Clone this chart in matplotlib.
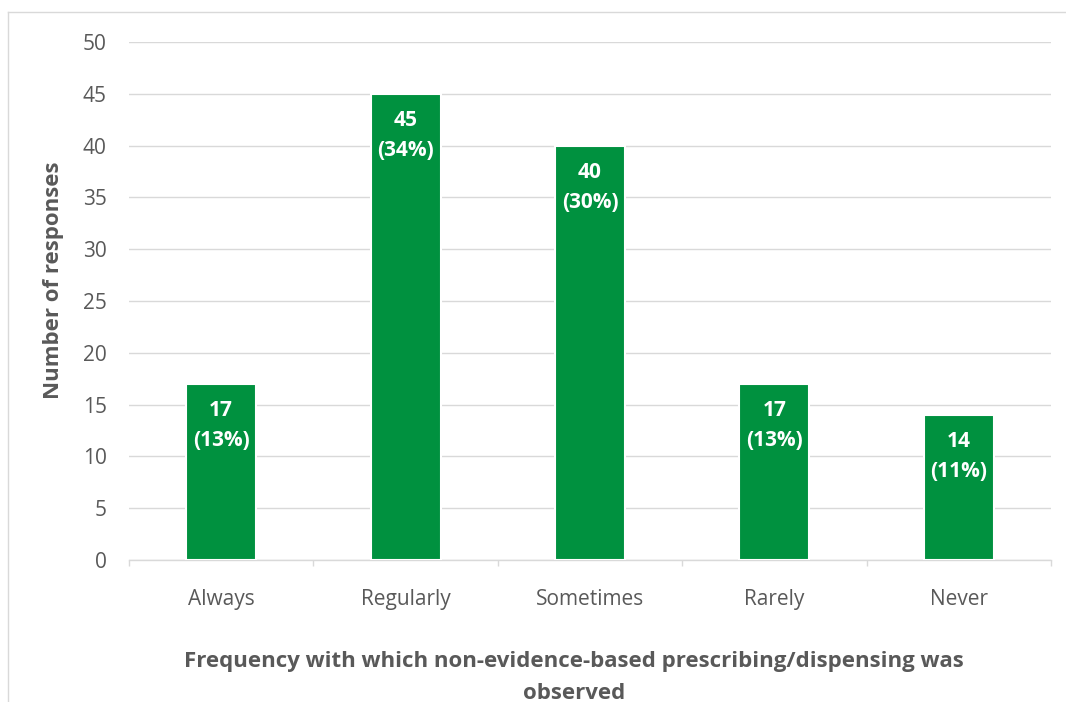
import matplotlib
matplotlib.use("Agg")
import matplotlib.pyplot as plt
from matplotlib.lines import Line2D

plt.rcParams['font.family'] = ['Open Sans', 'DejaVu Sans']

# survey responses
categories = ['Always', 'Regularly', 'Sometimes', 'Rarely', 'Never']
responses = [17, 45, 40, 17, 14]
y_ticks = [0, 5, 10, 15, 20, 25, 30, 35, 40, 45, 50]

total = sum(responses)
percents = [round(100 * v / total) for v in responses]

green = '#00913F'
grey_text = '#595959'
grid_col = '#D9D9D9'

W, H = 1066, 702
fig = plt.figure(figsize=(W / 100, H / 100), dpi=100)
ax = fig.add_axes([129 / W, (H - 560) / H, (1051 - 129) / W, (560 - 42) / H])

x = list(range(len(categories)))
bars = ax.bar(x, responses, width=0.38, color=green, edgecolor='white',
              linewidth=1.5, zorder=3)

# value + share inside each bar
for b, v, p in zip(bars, responses, percents):
    cx = b.get_x() + b.get_width() / 2
    ax.annotate(str(v), (cx, v), xytext=(0, -27), textcoords='offset pixels',
                ha='center', va='center', color='white', fontsize=15,
                fontweight='bold', zorder=4)
    ax.annotate(f'({p}%)', (cx, v), xytext=(0, -57), textcoords='offset pixels',
                ha='center', va='center', color='white', fontsize=15,
                fontweight='bold', zorder=4)

ax.set_xlim(-0.5, len(categories) - 0.5)
ax.set_ylim(0, 50)
ax.set_yticks(y_ticks)
ax.set_xticks(x)
ax.set_xticklabels(categories)
ax.set_xticks([i - 0.5 for i in range(len(categories) + 1)], minor=True)

ax.yaxis.grid(True, color=grid_col, linewidth=1.0, zorder=0)
ax.set_axisbelow(True)
for s in ['top', 'right', 'left']:
    ax.spines[s].set_visible(False)
ax.spines['bottom'].set_color(grid_col)
ax.spines['bottom'].set_linewidth(1.0)

ax.tick_params(axis='y', length=0, pad=16, labelsize=15, labelcolor=grey_text)
ax.tick_params(axis='x', which='major', length=0, pad=21, labelsize=15,
               labelcolor=grey_text)
ax.tick_params(axis='x', which='minor', length=4, color=grid_col, width=1.0)

# axis titles
fig.text(54 / W, 1 - 280 / H, 'Number of responses', rotation=90,
         ha='center', va='center', fontsize=16, fontweight='bold', color=grey_text)
fig.text(574 / W, 1 - 667 / H,
         'Frequency with which non-evidence-based prescribing/dispensing was',
         ha='center', va='baseline', fontsize=16, fontweight='bold', color=grey_text)
fig.text(574 / W, 1 - 699 / H, 'observed',
         ha='center', va='baseline', fontsize=16, fontweight='bold', color=grey_text)

# chart area border
fig.add_artist(Line2D([8 / W, 1], [1 - 12 / H, 1 - 12 / H], color=grid_col,
                      linewidth=1.0, transform=fig.transFigure))
fig.add_artist(Line2D([8 / W, 8 / W], [0, 1 - 12 / H], color=grid_col,
                      linewidth=1.0, transform=fig.transFigure))

fig.savefig('out.png', dpi=100)
